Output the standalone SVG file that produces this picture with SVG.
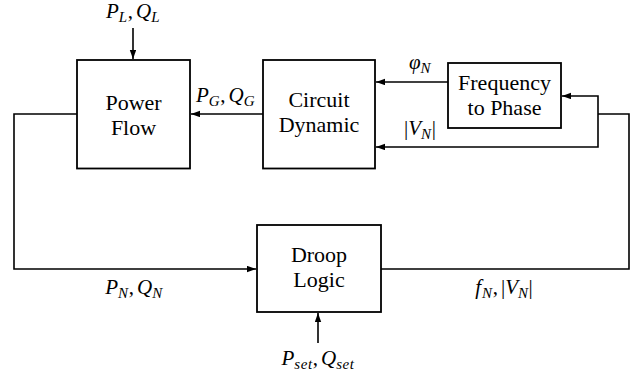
<svg xmlns="http://www.w3.org/2000/svg" width="644" height="382" viewBox="0 0 644 382">
<style>
.box{fill:#fff;stroke:#000;stroke-width:1.8}
.lbl{font-family:'Liberation Serif',Tinos,'Noto Serif','DejaVu Serif',FreeSerif,'Nimbus Roman','Times New Roman',Times,serif;font-size:22px;fill:#000;text-anchor:middle}
.m{font-family:'Liberation Serif',Tinos,'Noto Serif','DejaVu Serif',FreeSerif,'Nimbus Roman','Times New Roman',Times,serif;font-size:21px;fill:#000;text-anchor:middle}
.i{font-style:italic}
.s{font-style:italic;font-size:15px;letter-spacing:0.6px}
.c{fill:none;stroke:#000;stroke-width:1.6}
</style>
<defs>
<marker id="ah" markerUnits="userSpaceOnUse" markerWidth="10" markerHeight="8" refX="9" refY="3.2" orient="auto">
<path d="M0,0 L9,3.2 L0,6.4 z" fill="#000"/>
</marker>
</defs>
<g id="connectors">
<path class="c" d="M133,28 V59" marker-end="url(#ah)"/>
<path class="c" d="M263,114 H191" marker-end="url(#ah)"/>
<path class="c" d="M448,82 H376" marker-end="url(#ah)"/>
<path class="c" d="M598,114 V96 H562" marker-end="url(#ah)"/>
<path class="c" d="M598,114 V147 H376" marker-end="url(#ah)"/>
<path class="c" d="M381,269 H629 V114 H598"/>
<path class="c" d="M77,114 H14 V269 H256" marker-end="url(#ah)"/>
<path class="c" d="M318,343 V313" marker-end="url(#ah)"/>
</g>
<g id="power-flow">
<rect class="box" x="77" y="60" width="113" height="108.5"/>
<text class="lbl" x="133.5" y="110">Power</text>
<text class="lbl" x="133.5" y="135">Flow</text>
</g>
<g id="circuit-dynamic">
<rect class="box" x="263" y="60" width="112" height="108.5"/>
<text class="lbl" x="319" y="107">Circuit</text>
<text class="lbl" x="319" y="132">Dynamic</text>
</g>
<g id="frequency-to-phase">
<rect class="box" x="448" y="63" width="113" height="65"/>
<text class="lbl" x="504.5" y="90">Frequency</text>
<text class="lbl" x="504.5" y="115">to Phase</text>
</g>
<g id="droop-logic">
<rect class="box" x="257" y="225" width="124" height="87"/>
<text class="lbl" x="319" y="262">Droop</text>
<text class="lbl" x="319" y="287">Logic</text>
</g>
<g id="labels">
<text class="m" x="133" y="18"><tspan class="i">P</tspan><tspan class="s" dy="4">L</tspan><tspan dy="-4">,</tspan><tspan class="i" dx="3">Q</tspan><tspan class="s" dy="4">L</tspan></text>
<text class="m" x="225.5" y="102"><tspan class="i">P</tspan><tspan class="s" dy="4">G</tspan><tspan dy="-4">,</tspan><tspan class="i" dx="3">Q</tspan><tspan class="s" dy="4">G</tspan></text>
<text class="m" x="420" y="69"><tspan class="i">φ</tspan><tspan class="s" dy="4">N</tspan></text>
<text class="m" x="420" y="135"><tspan>|</tspan><tspan class="i">V</tspan><tspan class="s" dy="4">N</tspan><tspan dy="-4">|</tspan></text>
<text class="m" x="134" y="294"><tspan class="i">P</tspan><tspan class="s" dy="4">N</tspan><tspan dy="-4">,</tspan><tspan class="i" dx="3">Q</tspan><tspan class="s" dy="4">N</tspan></text>
<text class="m" x="504" y="294"><tspan class="i">f</tspan><tspan class="s" dy="4" dx="1">N</tspan><tspan dy="-4">,</tspan><tspan dx="3">|</tspan><tspan class="i">V</tspan><tspan class="s" dy="4">N</tspan><tspan dy="-4">|</tspan></text>
<text class="m" x="318" y="365"><tspan class="i">P</tspan><tspan class="s" dy="4">set</tspan><tspan dy="-4">,</tspan><tspan class="i" dx="3">Q</tspan><tspan class="s" dy="4">set</tspan></text>
</g>
</svg>
